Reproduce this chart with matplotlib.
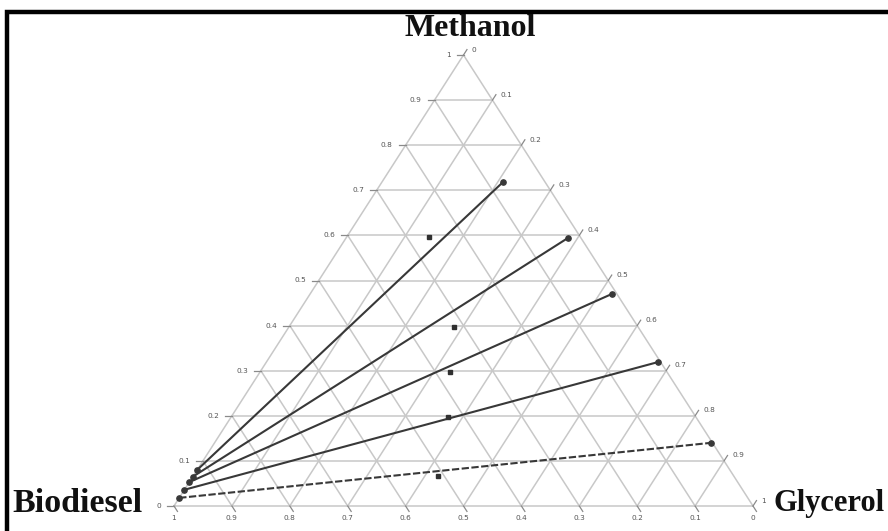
import numpy as np
import matplotlib.pyplot as plt
from matplotlib.lines import Line2D

# tie lines: methanol-rich end and biodiesel-rich end (mass fractions)
top_methanol = [0.718, 0.594, 0.470, 0.319, 0.140]
top_glycerol = [0.209, 0.383, 0.521, 0.676, 0.857]
bot_methanol = [0.080, 0.065, 0.053, 0.036, 0.018]
bot_glycerol = [0.0, 0.0, 0.0, 0.0, 0.0]

# overall mixture points
mix_methanol = [0.596, 0.397, 0.297, 0.197, 0.067]
mix_glycerol = [0.142, 0.285, 0.328, 0.374, 0.423]

ticks = [0, 0.1, 0.2, 0.3, 0.4, 0.5, 0.6, 0.7, 0.8, 0.9, 1]
tick_labels = ['0', '0.1', '0.2', '0.3', '0.4', '0.5', '0.6', '0.7', '0.8', '0.9', '1']


def to_xy(m, g):
    # methanol at the top, glycerol to the right, biodiesel to the left
    m = np.asarray(m, dtype=float)
    g = np.asarray(g, dtype=float)
    return g + m / 2.0, m


W, H = 888, 531
fig = plt.figure(figsize=(W / 100, H / 100), dpi=100)
fig.add_artist(Line2D([7 / W, 7 / W, 1], [0, 1 - 12 / H, 1 - 12 / H],
                      transform=fig.transFigure, color='black', lw=3.2,
                      solid_joinstyle='miter'))

ax = fig.add_axes([174 / W, (H - 506) / H, 579 / W, 451 / H])
ax.set_xlim(0, 1)
ax.set_ylim(0, 1)
ax.axis('off')

grid_kw = dict(color='#c8c8c8', lw=1.1, zorder=1, clip_on=False)
tick_kw = dict(color='#8a8a8a', lw=0.9, zorder=1, clip_on=False)
lab_kw = dict(fontsize=5.3, color='#555555', family='DejaVu Sans')

# triangle outline
ex, ey = to_xy([0, 0, 1, 0], [0, 1, 0, 0])
ax.plot(ex, ey, **grid_kw)

for t in ticks[1:-1]:
    # constant methanol (horizontal)
    x, y = to_xy([t, t], [0, 1 - t])
    ax.plot(x, y, **grid_kw)
    # constant glycerol
    x, y = to_xy([0, 1 - t], [t, t])
    ax.plot(x, y, **grid_kw)
    # constant biodiesel
    x, y = to_xy([0, 1 - t], [1 - t, 0])
    ax.plot(x, y, **grid_kw)

d = 0.012
for t, s in zip(ticks, tick_labels):
    # left edge: methanol
    x0, y0 = to_xy(t, 0)
    ax.plot([x0 - d, x0], [y0, y0], **tick_kw)
    ax.text(x0 - d - 0.01, y0, s, ha='right', va='center', **lab_kw)
    # right edge: glycerol
    x0, y0 = to_xy(1 - t, t)
    x1, y1 = to_xy(1 - t + d, t)
    ax.plot([x0, x1], [y0, y1], **tick_kw)
    ax.text(x1 + 0.008, y1, s, ha='left', va='center', **lab_kw)
    # bottom edge: biodiesel
    x0, y0 = to_xy(0, 1 - t)
    x1, y1 = to_xy(-d, 1 - t + d)
    ax.plot([x0, x1], [y0, y1], **tick_kw)
    ax.text(x0, y1 - 0.008, s, ha='center', va='top', **lab_kw)

# tie lines
for i in range(len(top_methanol)):
    x, y = to_xy([bot_methanol[i], top_methanol[i]],
                 [bot_glycerol[i], top_glycerol[i]])
    ls = (0, (3.5, 1.2)) if i == len(top_methanol) - 1 else '-'
    ax.plot(x, y, color='#383838', lw=1.5, ls=ls, marker='o', ms=3.8,
            mfc='#383838', mec='#383838', zorder=3, clip_on=False)

mx, my = to_xy(mix_methanol, mix_glycerol)
ax.plot(mx, my, ls='none', marker='s', ms=2.4, color='#303030', zorder=3)

title_kw = dict(family='Liberation Serif', fontweight='bold', color='#111111')
fig.text(470 / W, 1 - 29 / H, 'Methanol', ha='center', va='center',
         fontsize=23, **title_kw)
fig.text(12 / W, 1 - 504 / H, 'Biodiesel', ha='left', va='center',
         fontsize=24.5, **title_kw)
fig.text(773 / W, 1 - 503 / H, 'Glycerol', ha='left', va='center',
         fontsize=22, **title_kw)

fig.savefig('out.png', dpi=100)
